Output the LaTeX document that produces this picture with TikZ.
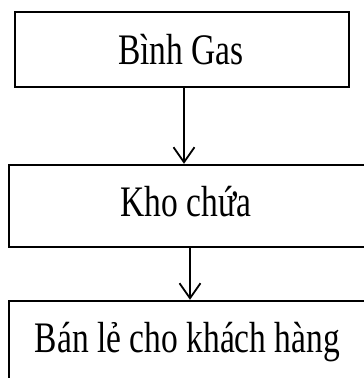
\documentclass[tikz,border=0pt]{standalone}
\usepackage{fontspec}
\setmainfont{Liberation Serif}
\usetikzlibrary{arrows.meta}
\newcommand{\tallt}[1]{\scalebox{1}[1.3]{#1}}
\begin{document}
\begin{tikzpicture}[x=1pt,y=1pt,
  boxnode/.style={draw=black, line width=2.4pt, rectangle, inner sep=0pt},
  txt/.style={anchor=base, inner sep=0pt, font=\fontsize{33.5pt}{40pt}\selectfont},
  arr/.style={line width=1.8pt, -{Straight Barb[length=15pt,width=21pt,line width=1.8pt]}}]
\useasboundingbox (0,0) rectangle (364,-378);
\clip (0,0) rectangle (364,-378);
\node[boxnode, minimum width=334, minimum height=75] (top) at (182,-49.5) {};
\node[boxnode, minimum width=357, minimum height=82] (mid) at (187.5,-206) {};
\node[boxnode, minimum width=357, minimum height=110] (bot) at (187.5,-356) {};
\node[txt] (t1) at (181,-64) {\tallt{Bình Gas}};
\node[txt] (t2) at (186,-216) {\tallt{Kho chứa}};
\node[txt] (t3) at (187.5,-352) {\tallt{Bán lẻ cho khách hàng}};
\coordinate (a1) at (184,0);
\coordinate (a2) at (190,0);
\draw[arr] (top.south -| a1) -- (mid.north -| a1);
\draw[arr] (mid.south -| a2) -- (bot.north -| a2);
\end{tikzpicture}
\end{document}
